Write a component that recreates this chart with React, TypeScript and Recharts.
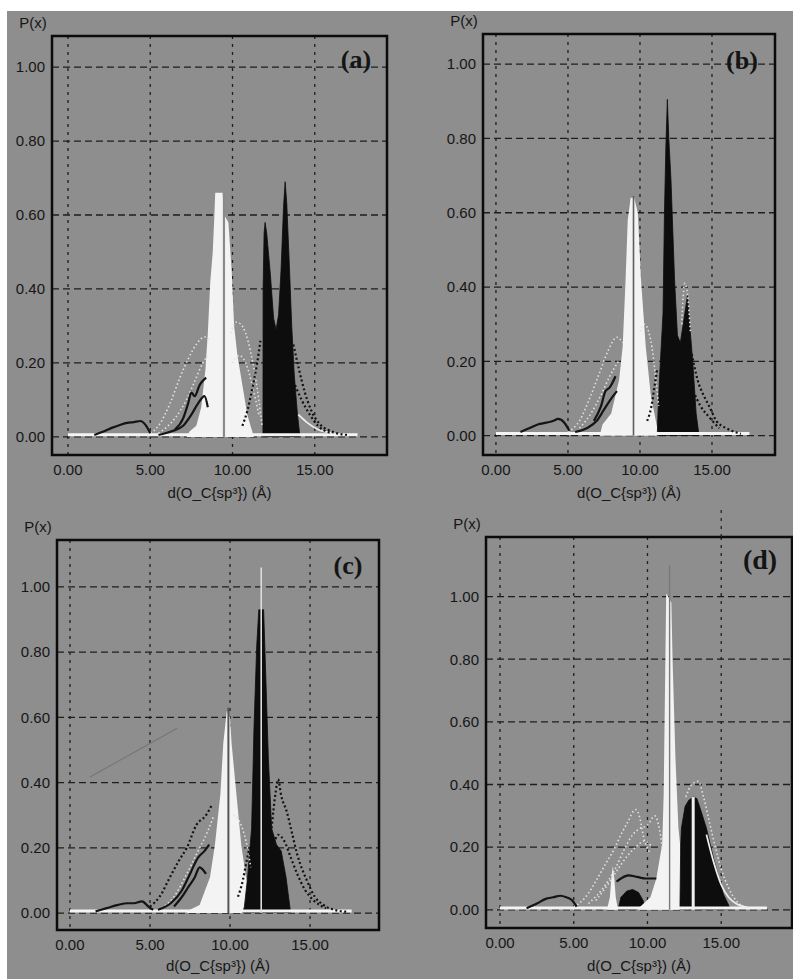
import React from 'react';
import {
  ComposedChart,
  Area,
  Line,
  XAxis,
  YAxis,
  CartesianGrid,
  ReferenceArea,
  ReferenceLine,
} from 'recharts';

type Pts = number[][];

// ---------- shared text / ticks ----------
const xTicks = [0, 5, 10, 15];
const yTicks = [0, 0.2, 0.4, 0.6, 0.8, 1.0];
const xTitle = 'd(O_C{sp³}) (Å)';
const yTitle = 'P(x)';

// ---------- panel (a) ----------
const aBase: Pts = [[0, 0.006], [17.6, 0.006]];
const aLight1: Pts = [[4.8, 0.005], [5.5, 0.03], [6.2, 0.09], [6.8, 0.16], [7.3, 0.21], [7.8, 0.25], [8.3, 0.27], [8.6, 0.26]];
const aLight2: Pts = [[5.5, 0.01], [6.5, 0.05], [7.2, 0.1], [7.7, 0.15], [8.2, 0.2], [8.5, 0.22]];
const aLight3: Pts = [[9.9, 0.28], [10.2, 0.31], [10.5, 0.305], [10.8, 0.28], [11.1, 0.23], [11.4, 0.16], [11.6, 0.1], [11.8, 0.03]];
const aLight4: Pts = [[10.0, 0.2], [10.4, 0.22], [10.8, 0.2], [11.2, 0.14], [11.6, 0.06]];
const aLight5: Pts = [[14.0, 0.06], [14.5, 0.04], [15.2, 0.02], [16.2, 0.01]];
const aDots1: Pts = [[13.7, 0.25], [14.0, 0.19], [14.4, 0.12], [14.8, 0.07], [15.3, 0.035], [16.0, 0.015], [17.0, 0.005]];
const aDots2: Pts = [[13.8, 0.14], [14.2, 0.1], [14.7, 0.06], [15.2, 0.03], [16.0, 0.01]];
const aDots3: Pts = [[10.6, 0.03], [10.9, 0.07], [11.2, 0.13], [11.5, 0.2], [11.7, 0.26]];
const aDark1: Pts = [[1.6, 0.005], [2.2, 0.015], [2.7, 0.025], [3.2, 0.033], [3.6, 0.038], [4.0, 0.04], [4.4, 0.043], [4.7, 0.033], [5.0, 0.01]];
const aDark2: Pts = [[5.5, 0.005], [6.3, 0.015], [7.0, 0.03], [7.5, 0.06], [7.9, 0.09], [8.3, 0.11], [8.5, 0.08]];
const aDark3: Pts = [[6.5, 0.02], [7.0, 0.05], [7.3, 0.09], [7.5, 0.12], [7.7, 0.11], [8.0, 0.14], [8.4, 0.16]];
const aWhite: Pts = [[7.2, 0], [7.4, 0.015], [7.8, 0.03], [8.1, 0.08], [8.35, 0.18], [8.5, 0.28], [8.65, 0.42], [8.8, 0.5], [8.9, 0.6], [8.95, 0.66], [9.4, 0.66], [9.5, 0.6], [9.75, 0.58], [9.95, 0.45], [10.1, 0.3], [10.3, 0.22], [10.6, 0.14], [10.9, 0.06], [11.3, 0]];
const aBlack: Pts = [[11.85, 0], [11.86, 0.4], [11.92, 0.55], [11.98, 0.58], [12.08, 0.55], [12.3, 0.44], [12.5, 0.32], [12.65, 0.29], [12.8, 0.33], [12.95, 0.45], [13.1, 0.62], [13.2, 0.69], [13.3, 0.63], [13.45, 0.47], [13.6, 0.3], [13.75, 0.17], [13.95, 0.06], [14.1, 0]];

// ---------- panel (b) ----------
const bBase: Pts = [[0, 0.006], [17.6, 0.006]];
const bLight1: Pts = [[5.0, 0.01], [5.8, 0.04], [6.5, 0.1], [7.2, 0.17], [7.8, 0.23], [8.4, 0.265], [8.8, 0.25]];
const bLight2: Pts = [[5.8, 0.02], [6.6, 0.06], [7.3, 0.11], [7.9, 0.16], [8.5, 0.2]];
const bLight3: Pts = [[10.0, 0.28], [10.3, 0.3], [10.6, 0.28], [10.9, 0.22], [11.1, 0.15], [11.3, 0.08]];
const bLight4: Pts = [[12.9, 0.3], [13.1, 0.41], [13.3, 0.38], [13.5, 0.28]];
const bDots1: Pts = [[13.6, 0.22], [14.0, 0.15], [14.4, 0.11], [14.8, 0.08], [15.3, 0.04], [16.0, 0.02], [17.0, 0.005]];
const bDots2: Pts = [[13.7, 0.12], [14.2, 0.08], [14.8, 0.05], [15.5, 0.02]];
const bDots3: Pts = [[10.5, 0.04], [10.8, 0.08], [11.0, 0.13], [11.2, 0.18]];
const bDark1: Pts = [[1.7, 0.01], [2.3, 0.02], [2.9, 0.03], [3.5, 0.035], [4.0, 0.04], [4.3, 0.045], [4.75, 0.035], [5.1, 0.013]];
const bDark2: Pts = [[5.5, 0.01], [6.3, 0.02], [7.0, 0.04], [7.5, 0.07], [8.0, 0.1], [8.4, 0.12]];
const bDark3: Pts = [[6.8, 0.04], [7.3, 0.08], [7.6, 0.12], [7.9, 0.13], [8.3, 0.16]];
const bWhite: Pts = [[7.2, 0], [7.4, 0.03], [8.0, 0.06], [8.55, 0.15], [8.8, 0.24], [9.0, 0.42], [9.15, 0.58], [9.35, 0.64], [9.6, 0.64], [9.85, 0.6], [10.07, 0.42], [10.4, 0.24], [10.75, 0.11], [11.2, 0.02], [11.3, 0]];
const bBlack: Pts = [[11.2, 0], [11.25, 0.06], [11.35, 0.15], [11.6, 0.33], [11.7, 0.6], [11.8, 0.78], [11.9, 0.905], [12.0, 0.8], [12.15, 0.69], [12.4, 0.42], [12.6, 0.27], [12.8, 0.25], [13.0, 0.3], [13.3, 0.377], [13.45, 0.3], [13.66, 0.2], [13.9, 0.06], [14.1, 0]];

// ---------- panel (c) ----------
const cBase: Pts = [[0, 0.006], [17.6, 0.006]];
const cLight1: Pts = [[5.5, 0.01], [6.5, 0.05], [7.3, 0.12], [8.0, 0.19], [8.6, 0.25], [9.0, 0.3]];
const cLight2: Pts = [[10.2, 0.3], [10.6, 0.28], [11.0, 0.22], [11.3, 0.14]];
const cDots1: Pts = [[5.0, 0.02], [5.6, 0.05], [6.25, 0.11], [6.8, 0.16], [7.3, 0.2], [7.9, 0.27], [8.5, 0.3], [8.85, 0.33]];
const cDots2: Pts = [[12.6, 0.26], [12.85, 0.37], [13.0, 0.41], [13.2, 0.36], [13.55, 0.31], [13.9, 0.24], [14.2, 0.18], [14.8, 0.1], [15.3, 0.05], [15.8, 0.026], [16.5, 0.01], [17.3, 0.004]];
const cDots3: Pts = [[12.7, 0.2], [13.0, 0.24], [13.4, 0.22], [13.8, 0.17], [14.2, 0.12], [14.7, 0.07], [15.2, 0.04], [16.0, 0.015]];
const cDots4: Pts = [[10.5, 0.05], [10.8, 0.1], [11.0, 0.15], [11.2, 0.2]];
const cDark1: Pts = [[1.6, 0.005], [2.3, 0.015], [3.0, 0.025], [3.6, 0.03], [4.0, 0.03], [4.5, 0.036], [4.9, 0.02], [5.2, 0.01]];
const cDark2: Pts = [[5.5, 0.01], [6.3, 0.03], [7.0, 0.07], [7.5, 0.12], [8.0, 0.17], [8.4, 0.19], [8.7, 0.21]];
const cDark3: Pts = [[6.5, 0.02], [7.0, 0.05], [7.4, 0.08], [7.8, 0.11], [8.1, 0.14], [8.5, 0.12]];
const cWhite: Pts = [[7.3, 0], [7.5, 0.01], [8.1, 0.025], [8.75, 0.11], [9.06, 0.21], [9.4, 0.365], [9.58, 0.52], [9.8, 0.62], [10.0, 0.6], [10.1, 0.52], [10.4, 0.365], [10.7, 0.21], [11.0, 0.11], [11.45, 0.015], [11.6, 0]];
const cBlack: Pts = [[10.8, 0], [10.9, 0.02], [11.1, 0.11], [11.35, 0.26], [11.5, 0.57], [11.67, 0.82], [11.8, 0.93], [12.1, 0.93], [12.2, 0.78], [12.4, 0.47], [12.6, 0.26], [12.9, 0.21], [13.2, 0.19], [13.5, 0.11], [13.75, 0.015], [13.8, 0]];

// ---------- panel (d) ----------
const dBase: Pts = [[0, 0.006], [18.1, 0.006]];
const dLight1: Pts = [[5.0, 0.01], [5.8, 0.04], [6.6, 0.1], [7.2, 0.15], [7.7, 0.19], [8.2, 0.24], [8.6, 0.275], [9.2, 0.32], [9.5, 0.29], [9.7, 0.24], [10.2, 0.18]];
const dLight2: Pts = [[6.0, 0.02], [7.0, 0.07], [7.8, 0.13], [8.5, 0.2], [9.0, 0.24], [9.5, 0.26], [10.0, 0.27], [10.5, 0.3], [10.8, 0.26], [11.0, 0.2]];
const dLight3: Pts = [[6.5, 0.03], [7.3, 0.08], [8.0, 0.13], [8.6, 0.17], [9.2, 0.2], [9.8, 0.22], [10.3, 0.2]];
const dLight4: Pts = [[12.6, 0.36], [13.0, 0.4], [13.45, 0.41], [13.8, 0.36], [14.2, 0.28], [14.6, 0.2], [15.0, 0.13], [15.5, 0.07], [16.0, 0.03], [16.5, 0.01]];
const dLight5: Pts = [[14.0, 0.24], [14.5, 0.15], [15.0, 0.08], [15.5, 0.04], [16.0, 0.02], [16.8, 0.008]];
const dDark1: Pts = [[1.8, 0.005], [2.5, 0.02], [3.1, 0.035], [3.6, 0.04], [4.1, 0.045], [4.5, 0.04], [4.9, 0.03], [5.2, 0.01]];
const dDark2: Pts = [[7.9, 0.09], [8.2, 0.1], [8.7, 0.11], [9.3, 0.105], [9.9, 0.1], [10.6, 0.1]];
const dBlackSmall: Pts = [[8.0, 0], [8.2, 0.04], [8.6, 0.06], [9.0, 0.065], [9.4, 0.055], [9.7, 0.03], [9.9, 0]];
const dWhiteSmall: Pts = [[7.25, 0], [7.45, 0.04], [7.55, 0.1], [7.65, 0.14], [7.75, 0.1], [7.85, 0.04], [8.0, 0]];
const dWhite: Pts = [[9.3, 0], [9.5, 0.01], [10.2, 0.04], [10.6, 0.1], [11.0, 0.21], [11.1, 0.37], [11.2, 0.75], [11.27, 1.01], [11.4, 1.0], [11.5, 0.99], [11.62, 0.98], [11.7, 0.8], [11.9, 0.48], [12.1, 0.26], [12.45, 0.1], [12.7, 0.01], [12.8, 0]];
const dBlack: Pts = [[12.2, 0], [12.25, 0.2], [12.3, 0.26], [12.55, 0.33], [12.8, 0.35], [13.1, 0.36], [13.35, 0.355], [13.6, 0.32], [14.0, 0.26], [14.5, 0.16], [15.15, 0.05], [15.6, 0.005], [15.7, 0]];

// ---------- styling ----------
type Kind = 'base' | 'light' | 'lightSolid' | 'dots' | 'dark' | 'white' | 'black';
type Series = { pts: Pts; kind: Kind };
type VLine = { x: number; y0: number; y1: number; color: string; width: number; dash?: string; x2?: number };
type PanelSpec = {
  label: string;
  frame: number[]; // x0, y0, x1, y1 in page pixels
  xDomain: number[];
  yDomain: number[];
  mr: number;
  titleOffset: number;
  labelBox: number[]; // centre x, top y, font size
  series: Series[];
  vlines: VLine[];
};

const BG = '#8e8e8e';
const INK = '#161616';
const FONT = '"Liberation Sans", Arial, Helvetica, sans-serif';

const panels: PanelSpec[] = [
  {
    label: '(a)',
    frame: [52, 36, 387, 455],
    xDomain: [-0.97, 19.39],
    yDomain: [-0.049, 1.084],
    mr: 4,
    titleOffset: 10,
    labelBox: [356, 47, 26],
    series: [
      { pts: aBase, kind: 'base' },
      { pts: aLight1, kind: 'light' },
      { pts: aLight2, kind: 'light' },
      { pts: aLight3, kind: 'light' },
      { pts: aLight4, kind: 'light' },
      { pts: aLight5, kind: 'lightSolid' },
      { pts: aDots1, kind: 'dots' },
      { pts: aDots2, kind: 'dots' },
      { pts: aDots3, kind: 'dots' },
      { pts: aWhite, kind: 'white' },
      { pts: aDark1, kind: 'dark' },
      { pts: aDark2, kind: 'dark' },
      { pts: aDark3, kind: 'dark' },
      { pts: aBlack, kind: 'black' },
    ],
    vlines: [{ x: 9.48, y0: 0, y1: 0.66, color: '#8a8a8a', width: 2.2 }],
  },
  {
    label: '(b)',
    frame: [483, 34, 775, 455],
    xDomain: [-0.9, 19.375],
    yDomain: [-0.052, 1.081],
    mr: 4,
    titleOffset: 10,
    labelBox: [742, 48, 26],
    series: [
      { pts: bBase, kind: 'base' },
      { pts: bLight1, kind: 'light' },
      { pts: bLight2, kind: 'light' },
      { pts: bLight3, kind: 'light' },
      { pts: bLight4, kind: 'light' },
      { pts: bDots1, kind: 'dots' },
      { pts: bDots2, kind: 'dots' },
      { pts: bDots3, kind: 'dots' },
      { pts: bWhite, kind: 'white' },
      { pts: bDark1, kind: 'dark' },
      { pts: bDark2, kind: 'dark' },
      { pts: bDark3, kind: 'dark' },
      { pts: bBlack, kind: 'black' },
    ],
    vlines: [{ x: 9.55, y0: 0, y1: 0.645, color: '#5e5e5e', width: 1.6 }],
  },
  {
    label: '(c)',
    frame: [57, 540, 379, 930],
    xDomain: [-0.81, 19.31],
    yDomain: [-0.052, 1.144],
    mr: 4,
    titleOffset: 8,
    labelBox: [348, 553, 26],
    series: [
      { pts: cBase, kind: 'base' },
      { pts: cLight1, kind: 'light' },
      { pts: cLight2, kind: 'light' },
      { pts: cDots1, kind: 'dots' },
      { pts: cDots2, kind: 'dots' },
      { pts: cDots3, kind: 'dots' },
      { pts: cDots4, kind: 'dots' },
      { pts: cWhite, kind: 'white' },
      { pts: cDark1, kind: 'dark' },
      { pts: cDark2, kind: 'dark' },
      { pts: cDark3, kind: 'dark' },
      { pts: cBlack, kind: 'black' },
    ],
    vlines: [
      { x: 9.9, y0: 0, y1: 0.63, color: '#555555', width: 2 },
      { x: 11.95, y0: 0, y1: 1.06, color: '#dcdcdc', width: 1.6 },
      { x: 1.25, y0: 0.417, x2: 6.7, y1: 0.567, color: '#767676', width: 1.1 },
    ],
  },
  {
    label: '(d)',
    frame: [486, 537, 792, 928],
    xDomain: [-0.95, 19.8],
    yDomain: [-0.058, 1.19],
    mr: 1,
    titleOffset: 10,
    labelBox: [760, 546, 28],
    series: [
      { pts: dBase, kind: 'base' },
      { pts: dLight1, kind: 'light' },
      { pts: dLight2, kind: 'light' },
      { pts: dLight3, kind: 'light' },
      { pts: dLight4, kind: 'light' },
      { pts: dLight5, kind: 'lightSolid' },
      { pts: dDark1, kind: 'dark' },
      { pts: dBlackSmall, kind: 'black' },
      { pts: dDark2, kind: 'dark' },
      { pts: dWhiteSmall, kind: 'white' },
      { pts: dWhite, kind: 'white' },
      { pts: dBlack, kind: 'black' },
    ],
    vlines: [
      { x: 11.5, y0: 0, y1: 1.1, color: '#7a7a7a', width: 1.4 },
      { x: 13.1, y0: 0, y1: 0.36, color: '#eeeeee', width: 3 },
      { x: 15, y0: 1.19, y1: 1.332, color: '#222222', width: 1.3, dash: '3 5' },
    ],
  },
];

// layout constants for each chart box
const ML = 12;
const YW = 38;
const MT = 30;
const XH = 22;
const MB = 32;

// table for the filled histograms (areas) of a panel
function buildRows(list: Series[]) {
  const map = new Map<number, Record<string, number>>();
  list.forEach((s, i) => {
    if (s.kind !== 'white' && s.kind !== 'black') return;
    s.pts.forEach(([x, y]) => {
      const row = map.get(x) ?? { x };
      row['s' + i] = y;
      map.set(x, row);
    });
  });
  return Array.from(map.values()).sort((a, b) => a.x - b.x);
}

function lineData(pts: Pts, key: string) {
  return pts.map(([x, y]) => ({ x, [key]: y }));
}

function renderSeries(s: Series, i: number) {
  const key = 's' + i;
  const areaCommon = { key, dataKey: key, isAnimationActive: false, connectNulls: true, dot: false, activeDot: false } as any;
  const lineCommon = { key, dataKey: key, data: lineData(s.pts, key), isAnimationActive: false, dot: false, activeDot: false, fill: 'none' } as any;
  switch (s.kind) {
    case 'white':
      return <Area {...areaCommon} type="linear" baseValue={0} fill="#f3f3f3" fillOpacity={1} stroke="none" />;
    case 'black':
      return <Area {...areaCommon} type="linear" baseValue={0} fill="#0d0d0d" fillOpacity={1} stroke="#0d0d0d" strokeWidth={0.8} />;
    case 'base':
      return <Line {...lineCommon} type="linear" stroke="#f4f4f4" strokeWidth={3} />;
    case 'light':
      return <Line {...lineCommon} type="monotone" stroke="#e2e2e2" strokeWidth={1.6} strokeDasharray="1.5 2.5" />;
    case 'lightSolid':
      return <Line {...lineCommon} type="monotone" stroke="#ececec" strokeWidth={1.8} />;
    case 'dots':
      return <Line {...lineCommon} type="monotone" stroke="#111111" strokeWidth={2.2} strokeDasharray="2 2.5" />;
    case 'dark':
    default:
      return <Line {...lineCommon} type="monotone" stroke="#141414" strokeWidth={2.2} />;
  }
}

function Panel({ p }: { p: PanelSpec }) {
  const [fx0, fy0, fx1, fy1] = p.frame;
  const rows = buildRows(p.series);
  const width = ML + YW + (fx1 - fx0) + p.mr;
  const height = MT + (fy1 - fy0) + XH + MB;
  const tickStyle = { fill: INK, fontSize: 15, fontFamily: FONT };
  return (
    <>
      <div style={{ position: 'absolute', left: fx0 - YW - ML, top: fy0 - MT }}>
        <ComposedChart width={width} height={height} data={rows} margin={{ top: MT, left: ML, right: p.mr, bottom: MB }}>
          <CartesianGrid horizontal vertical={false} stroke="#1e1e1e" strokeWidth={1.3} strokeDasharray="7 4" />
          <CartesianGrid horizontal={false} vertical stroke="#1e1e1e" strokeWidth={1.3} strokeDasharray="3 5" />
          <XAxis
            type="number"
            dataKey="x"
            domain={p.xDomain}
            allowDataOverflow
            ticks={xTicks}
            tickFormatter={(v: number) => v.toFixed(2)}
            axisLine={false}
            tickLine={false}
            tickSize={0}
            tickMargin={9}
            height={XH}
            tick={tickStyle}
            interval={0}
            label={{ value: xTitle, position: 'bottom', offset: p.titleOffset, fill: INK, fontSize: 15, fontFamily: FONT }}
          />
          <YAxis
            type="number"
            domain={p.yDomain}
            allowDataOverflow
            ticks={yTicks}
            tickFormatter={(v: number) => v.toFixed(2)}
            axisLine={false}
            tickLine={false}
            tickSize={0}
            tickMargin={7}
            width={YW}
            tick={tickStyle}
            interval={0}
            label={{ value: yTitle, position: 'top', offset: 8, fill: INK, fontSize: 15, fontFamily: FONT }}
          />
          {p.series.map((s, i) => renderSeries(s, i))}
          {p.vlines.map((v, i) => (
            <ReferenceLine
              key={'v' + i}
              segment={[
                { x: v.x, y: v.y0 },
                { x: v.x2 ?? v.x, y: v.y1 },
              ]}
              stroke={v.color}
              strokeWidth={v.width}
              strokeDasharray={v.dash}
              ifOverflow="visible"
            />
          ))}
          <ReferenceArea
            x1={p.xDomain[0]}
            x2={p.xDomain[1]}
            y1={p.yDomain[0]}
            y2={p.yDomain[1]}
            fill="none"
            stroke="#0b0b0b"
            strokeWidth={2.5}
            ifOverflow="visible"
          />
        </ComposedChart>
      </div>
      <div
        style={{
          position: 'absolute',
          left: p.labelBox[0],
          top: p.labelBox[1],
          transform: 'translateX(-50%)',
          fontFamily: '"Liberation Serif", "Times New Roman", serif',
          fontWeight: 700,
          fontSize: p.labelBox[2],
          lineHeight: 1,
          color: '#141414',
          whiteSpace: 'nowrap',
        }}
      >
        {p.label}
      </div>
    </>
  );
}

export default function App() {
  return (
    <div
      style={{
        position: 'absolute',
        left: 0,
        top: 0,
        width: 793,
        height: 979,
        overflow: 'hidden',
        background: '#ffffff',
      }}
    >
      <div style={{ position: 'absolute', left: 7, top: 11, right: 0, bottom: 0, background: BG }} />
      {panels.map((p) => (
        <Panel key={p.label} p={p} />
      ))}
    </div>
  );
}
